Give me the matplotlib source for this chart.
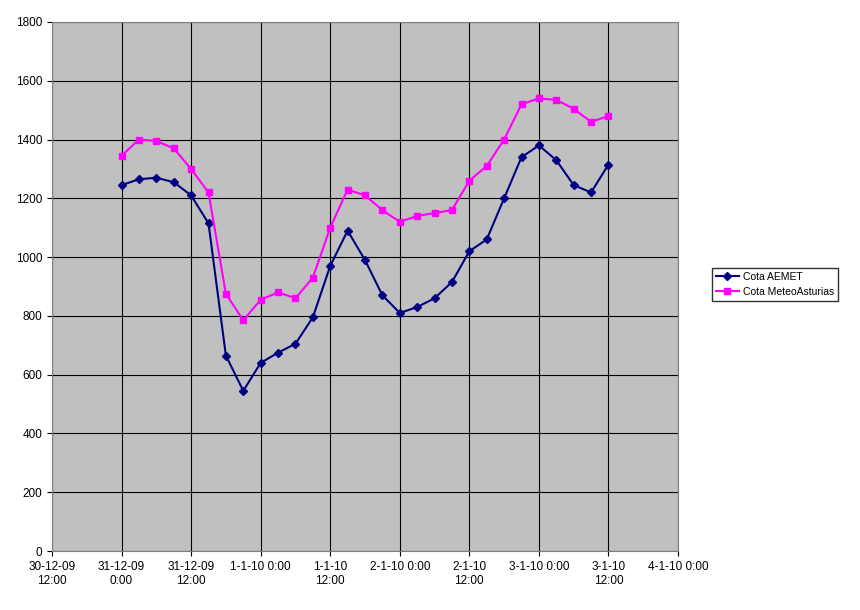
import matplotlib.pyplot as plt

# x in hours from 30-12-09 12:00, one point every 3 hours from 31-12-09 0:00
hours = [12 + 3 * i for i in range(29)]
aemet = [1245, 1265, 1270, 1255, 1210, 1115, 665, 545, 640, 675, 705, 795, 970, 1090, 990,
         870, 810, 830, 860, 915, 1020, 1060, 1200, 1340, 1380, 1330, 1245, 1220, 1315]
meteo = [1345, 1400, 1395, 1370, 1300, 1220, 875, 785, 855, 880, 860, 930, 1100, 1230, 1210,
         1160, 1120, 1140, 1150, 1160, 1260, 1310, 1400, 1520, 1540, 1535, 1505, 1460, 1480]
tick_labels = ['30-12-09\n12:00', '31-12-09\n0:00', '31-12-09\n12:00', '1-1-10 0:00',
               '1-1-10\n12:00', '2-1-10 0:00', '2-1-10\n12:00', '3-1-10 0:00',
               '3-1-10\n12:00', '4-1-10 0:00']

plt.rcParams['font.family'] = 'Liberation Sans'
fig = plt.figure(figsize=(8.6, 6.1), dpi=100)
ax = fig.add_axes([52 / 860, 1 - 551 / 610, 626 / 860, 529 / 610])
ax.set_facecolor('#C0C0C0')

ax.plot(hours, aemet, color='#000080', marker='D', markersize=4.5, lw=1.5, label='Cota AEMET')
ax.plot(hours, meteo, color='#FF00FF', marker='s', markersize=5, lw=1.5, label='Cota MeteoAsturias')

ax.set_xlim(0, 108)
ax.set_ylim(0, 1800)
ax.set_xticks(range(0, 109, 12))
ax.set_xticklabels(tick_labels, fontsize=8.5)
ax.set_yticks(range(0, 1801, 200))
ax.tick_params(axis='y', labelsize=8.5)
ax.grid(True, color='black', lw=0.8)
ax.set_axisbelow(True)
for s in ax.spines.values():
    s.set_color('#808080')

fig.legend(loc='upper left', bbox_to_anchor=(710 / 860, 1 - 266 / 610), fontsize=7.5,
           frameon=True, fancybox=False, edgecolor='black', borderpad=0.35,
           handlelength=2.2, handletextpad=0.4, borderaxespad=0.2)

fig.savefig('out.png', dpi=100)
